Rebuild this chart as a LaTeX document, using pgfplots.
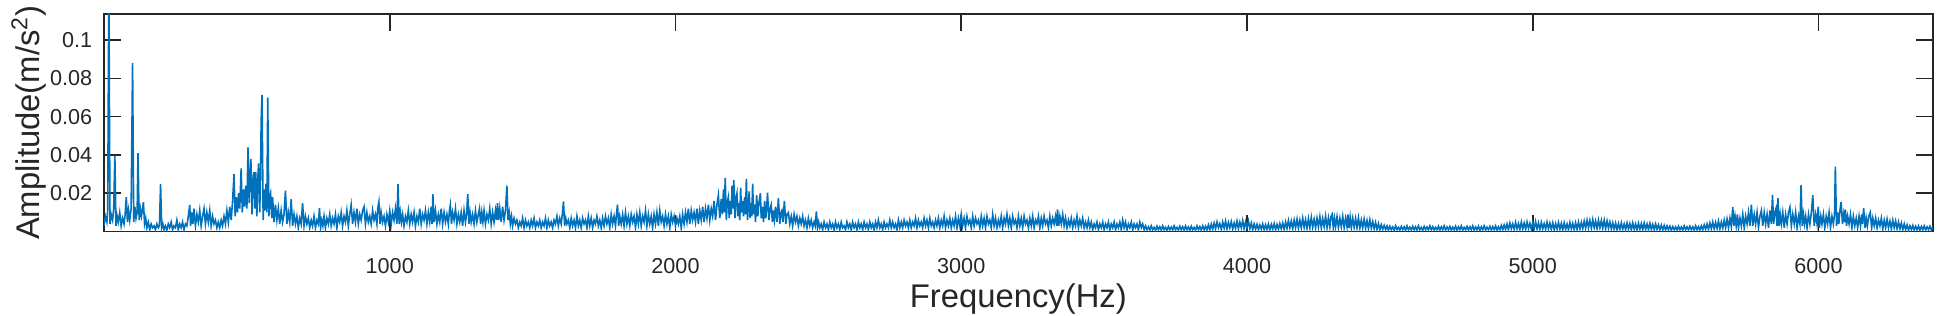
\documentclass[border=0pt]{standalone}
\usepackage{fontspec}
\setmainfont{Liberation Sans}
\usepackage{pgfplots}
\pgfplotsset{compat=1.18}
\definecolor{mblue}{rgb}{0,0.447,0.741}
\definecolor{axgray}{rgb}{0.15,0.15,0.15}

\begin{document}
\begin{tikzpicture}
\begin{axis}[
    scale only axis,
    width=914.4pt,
    height=108.8pt,
    xmin=0, xmax=6400,
    ymin=0, ymax=0.1136,
    xtick={1000,2000,3000,4000,5000,6000},
    ytick={0.02,0.04,0.06,0.08,0.1},
    yticklabels={0.02,0.04,0.06,0.08,0.1},
    tick align=inside,
    major tick length=8.5pt,
    axis line style={axgray, line width=0.8pt},
    every tick/.style={axgray, line width=0.8pt},
    tick label style={font=\fontsize{10.8}{13}\selectfont, text=axgray},
    /pgf/number format/assume math mode=true,
    /pgf/number format/1000 sep={},
    xticklabel style={yshift=-10pt},
    yticklabel style={xshift=-2.4pt},
    xlabel={Frequency(Hz)},
    ylabel={Amplitude(m/s\textsuperscript{2})},
    label style={font=\fontsize{16.4}{19}\selectfont, text=axgray},
    xlabel style={at={(axis description cs:0.5,0)}, anchor=base, yshift=-38pt},
    ylabel style={at={([xshift=-32pt]axis description cs:0,0.5)}, anchor=base},
    clip=true,
]
\addplot[mblue, line width=0.8pt] coordinates {
(0,0.003) (5,0.008) (10,0.005) (13,0.011) (17,0.13) (21,0.004) (25,0.009) (30,0.006) (34,0.012) (38,0.0395)
(42,0.003) (46,0.008) (50,0.005) (55,0.010) (60,0.003) (65,0.007) (70,0.004) (74,0.009) (78,0.018) (82,0.005)
(86,0.011) (90,0.006) (95,0.012) (100,0.088) (104,0.005) (108,0.013) (112,0.007) (116,0.010) (119,0.041) (123,0.006)
(127,0.012) (131,0.008) (134,0.011) (138,0.0153) (142,0.004) (146,0.007) (150,0.002) (155,0.005) (160,0.001) (165,0.004)
(170,0.002) (175,0.003) (180,0.001) (185,0.004) (190,0.002) (194,0.003) (198,0.0248) (202,0.002) (206,0.004) (210,0.001)
(215,0.003) (220,0.0008) (225,0.004) (230,0.002) (235,0.005) (240,0.001) (245,0.003) (250,0.002) (255,0.006) (260,0.001)
(265,0.004) (270,0.002) (275,0.005) (280,0.001) (285,0.004) (290,0.003) (295,0.008) (300,0.0139) (303,0.003) (307,0.010)
(311,0.004) (315,0.012) (320,0.003) (325,0.009) (330,0.005) (335,0.011) (340,0.003) (345,0.008) (350,0.012) (355,0.004)
(360,0.010) (365,0.005) (370,0.011) (375,0.003) (380,0.008) (385,0.004) (390,0.006) (395,0.002) (400,0.005) (405,0.002)
(410,0.006) (415,0.003) (420,0.008) (425,0.004) (430,0.011) (435,0.005) (440,0.013) (445,0.006) (450,0.016) (455,0.030)
(459,0.008) (463,0.018) (467,0.010) (471,0.020) (475,0.012) (480,0.033) (484,0.010) (488,0.022) (492,0.013) (496,0.024)
(500,0.012) (504,0.044) (508,0.015) (511,0.030) (514,0.038) (518,0.009) (521,0.025) (524,0.031) (528,0.012) (531,0.031)
(535,0.008) (538,0.027) (541,0.0356) (545,0.010) (548,0.030) (550,0.058) (553,0.0713) (557,0.006) (560,0.022) (563,0.011)
(567,0.025) (570,0.010) (573,0.070) (577,0.008) (580,0.018) (583,0.020) (587,0.007) (590,0.018) (595,0.005) (600,0.014)
(605,0.006) (610,0.012) (615,0.004) (620,0.011) (625,0.005) (630,0.009) (635,0.0214) (640,0.004) (645,0.010) (650,0.005)
(655,0.0169) (660,0.003) (665,0.009) (670,0.004) (675,0.008) (680,0.002) (685,0.007) (690,0.004) (695,0.0148) (700,0.003)
(705,0.008) (710,0.004) (715,0.007) (720,0.002) (725,0.006) (730,0.003) (735,0.008) (740,0.002) (745,0.006) (750,0.004)
(754,0.0122) (758,0.002) (762,0.006) (766,0.003) (770,0.008) (775,0.002) (780,0.007) (785,0.004) (790,0.009) (795,0.003)
(800,0.007) (805,0.004) (810,0.009) (815,0.002) (820,0.008) (825,0.005) (830,0.010) (835,0.003) (840,0.008) (845,0.005)
(850,0.011) (855,0.003) (860,0.009) (865,0.014) (870,0.004) (875,0.010) (880,0.005) (885,0.012) (890,0.004) (895,0.009)
(900,0.006) (905,0.011) (910,0.013) (915,0.004) (920,0.010) (925,0.005) (930,0.008) (935,0.004) (940,0.011) (945,0.006)
(950,0.009) (955,0.004) (958,0.012) (962,0.0155) (966,0.004) (970,0.010) (975,0.005) (980,0.008) (985,0.003) (990,0.009)
(995,0.005) (1000,0.011) (1005,0.004) (1010,0.010) (1015,0.006) (1020,0.012) (1025,0.004) (1029,0.0248) (1033,0.004) (1037,0.010)
(1041,0.005) (1045,0.009) (1050,0.003) (1055,0.008) (1060,0.005) (1065,0.011) (1070,0.004) (1075,0.009) (1080,0.005) (1085,0.010)
(1090,0.003) (1095,0.008) (1100,0.005) (1105,0.012) (1110,0.004) (1115,0.009) (1120,0.006) (1125,0.011) (1130,0.004) (1135,0.010)
(1140,0.005) (1145,0.013) (1148,0.004) (1151,0.0195) (1155,0.005) (1160,0.011) (1165,0.004) (1170,0.009) (1175,0.005) (1180,0.012)
(1185,0.004) (1190,0.010) (1195,0.005) (1200,0.009) (1205,0.004) (1209,0.011) (1212,0.0139) (1216,0.004) (1220,0.010) (1225,0.006)
(1230,0.012) (1235,0.004) (1240,0.009) (1245,0.005) (1250,0.010) (1255,0.003) (1260,0.011) (1265,0.005) (1269,0.009) (1273,0.0196)
(1277,0.004) (1281,0.010) (1285,0.005) (1290,0.009) (1295,0.004) (1300,0.011) (1305,0.005) (1310,0.009) (1314,0.012) (1318,0.004)
(1322,0.010) (1326,0.005) (1330,0.011) (1335,0.004) (1340,0.009) (1345,0.006) (1350,0.012) (1355,0.004) (1360,0.010) (1365,0.005)
(1370,0.011) (1374,0.006) (1377,0.0148) (1381,0.006) (1385,0.012) (1390,0.005) (1395,0.013) (1400,0.006) (1405,0.011) (1410,0.024)
(1414,0.006) (1418,0.010) (1422,0.004) (1426,0.008) (1430,0.003) (1435,0.007) (1440,0.004) (1445,0.006) (1450,0.002) (1455,0.005)
(1460,0.003) (1465,0.007) (1470,0.002) (1475,0.006) (1480,0.003) (1485,0.005) (1490,0.002) (1495,0.006) (1500,0.003) (1505,0.007)
(1510,0.002) (1515,0.005) (1520,0.003) (1525,0.006) (1530,0.002) (1535,0.005) (1540,0.003) (1545,0.007) (1550,0.002) (1555,0.006)
(1560,0.003) (1565,0.005) (1570,0.002) (1575,0.006) (1580,0.004) (1585,0.008) (1590,0.003) (1595,0.007) (1600,0.004) (1604,0.009)
(1608,0.0157) (1612,0.003) (1616,0.007) (1620,0.004) (1625,0.006) (1630,0.002) (1635,0.007) (1640,0.003) (1645,0.006) (1650,0.002)
(1655,0.008) (1660,0.003) (1665,0.006) (1670,0.002) (1675,0.007) (1680,0.004) (1685,0.006) (1690,0.002) (1695,0.008) (1700,0.003)
(1705,0.007) (1710,0.002) (1715,0.006) (1720,0.004) (1725,0.008) (1730,0.003) (1735,0.006) (1740,0.002) (1745,0.007) (1750,0.003)
(1755,0.008) (1760,0.004) (1765,0.007) (1770,0.002) (1775,0.009) (1780,0.004) (1785,0.008) (1790,0.003) (1794,0.010) (1797,0.014)
(1801,0.003) (1805,0.008) (1810,0.004) (1815,0.009) (1820,0.003) (1825,0.010) (1830,0.004) (1835,0.008) (1840,0.003) (1845,0.009)
(1850,0.005) (1855,0.008) (1860,0.002) (1865,0.009) (1870,0.004) (1875,0.010) (1880,0.003) (1885,0.008) (1890,0.005) (1895,0.011)
(1900,0.003) (1905,0.009) (1910,0.004) (1915,0.008) (1920,0.002) (1925,0.009) (1930,0.004) (1935,0.010) (1940,0.003) (1945,0.011)
(1950,0.005) (1955,0.008) (1960,0.003) (1965,0.009) (1970,0.004) (1975,0.008) (1980,0.002) (1985,0.009) (1990,0.005) (1995,0.008)
(2000,0.003) (2005,0.007) (2010,0.004) (2015,0.008) (2020,0.002) (2025,0.009) (2030,0.004) (2035,0.010) (2040,0.005) (2045,0.012)
(2050,0.004) (2055,0.011) (2060,0.006) (2065,0.010) (2070,0.005) (2075,0.012) (2080,0.004) (2085,0.011) (2090,0.006) (2095,0.013)
(2100,0.005) (2105,0.012) (2110,0.007) (2115,0.014) (2120,0.006) (2125,0.012) (2130,0.008) (2135,0.016) (2140,0.006) (2145,0.014)
(2150,0.019) (2155,0.007) (2160,0.017) (2164,0.009) (2168,0.022) (2171,0.010) (2174,0.028) (2178,0.006) (2181,0.015) (2185,0.018)
(2188,0.007) (2192,0.016) (2195,0.009) (2198,0.024) (2201,0.012) (2204,0.027) (2208,0.007) (2211,0.017) (2215,0.020) (2218,0.008)
(2222,0.015) (2225,0.006) (2228,0.023) (2231,0.010) (2235,0.016) (2238,0.008) (2242,0.018) (2245,0.009) (2248,0.0275) (2252,0.006)
(2255,0.014) (2258,0.021) (2261,0.007) (2264,0.015) (2267,0.008) (2270,0.025) (2273,0.009) (2277,0.014) (2280,0.005) (2284,0.019)
(2288,0.008) (2292,0.015) (2297,0.020) (2300,0.007) (2304,0.013) (2308,0.005) (2312,0.016) (2316,0.007) (2319,0.012) (2322,0.0203)
(2327,0.006) (2331,0.012) (2335,0.014) (2339,0.005) (2342,0.011) (2346,0.006) (2350,0.013) (2355,0.005) (2360,0.0174) (2365,0.004)
(2369,0.010) (2372,0.011) (2376,0.005) (2381,0.016) (2386,0.004) (2390,0.009) (2395,0.010) (2400,0.004) (2405,0.008) (2410,0.003)
(2415,0.009) (2420,0.005) (2425,0.008) (2430,0.003) (2435,0.007) (2440,0.004) (2445,0.008) (2450,0.003) (2455,0.006) (2460,0.002)
(2465,0.007) (2470,0.003) (2475,0.006) (2480,0.002) (2485,0.005) (2489,0.003) (2493,0.0105) (2497,0.002) (2501,0.005) (2505,0.002)
(2510,0.004) (2515,0.001) (2520,0.005) (2525,0.002) (2530,0.004) (2535,0.001) (2540,0.005) (2545,0.002) (2550,0.004) (2555,0.001)
(2560,0.005) (2565,0.002) (2570,0.004) (2575,0.001) (2580,0.005) (2585,0.002) (2590,0.003) (2595,0.001) (2600,0.005) (2605,0.002)
(2610,0.004) (2615,0.001) (2620,0.005) (2625,0.002) (2630,0.004) (2635,0.001) (2640,0.005) (2645,0.002) (2650,0.004) (2655,0.001)
(2660,0.005) (2665,0.002) (2670,0.004) (2675,0.001) (2680,0.005) (2685,0.002) (2690,0.004) (2695,0.001) (2700,0.005) (2705,0.002)
(2710,0.006) (2715,0.002) (2720,0.004) (2725,0.001) (2730,0.005) (2735,0.002) (2740,0.004) (2745,0.002) (2750,0.006) (2755,0.002)
(2760,0.005) (2765,0.002) (2770,0.004) (2775,0.001) (2780,0.006) (2785,0.002) (2790,0.005) (2795,0.002) (2800,0.006) (2805,0.003)
(2810,0.005) (2815,0.002) (2820,0.006) (2825,0.002) (2830,0.005) (2835,0.003) (2840,0.007) (2845,0.002) (2850,0.006) (2855,0.003)
(2860,0.005) (2865,0.002) (2870,0.007) (2875,0.003) (2880,0.006) (2885,0.002) (2890,0.007) (2895,0.003) (2900,0.005) (2905,0.002)
(2910,0.006) (2915,0.003) (2920,0.007) (2925,0.002) (2930,0.006) (2935,0.003) (2940,0.008) (2945,0.002) (2950,0.006) (2955,0.003)
(2960,0.007) (2965,0.002) (2970,0.006) (2975,0.003) (2980,0.008) (2985,0.002) (2990,0.007) (2995,0.003) (3000,0.009) (3005,0.003)
(3010,0.007) (3015,0.002) (3020,0.008) (3025,0.004) (3030,0.006) (3035,0.002) (3040,0.008) (3045,0.003) (3050,0.007) (3055,0.004)
(3060,0.006) (3065,0.002) (3070,0.008) (3075,0.003) (3080,0.007) (3085,0.002) (3090,0.008) (3095,0.004) (3100,0.006) (3105,0.002)
(3110,0.009) (3115,0.003) (3120,0.007) (3125,0.002) (3130,0.006) (3135,0.003) (3140,0.008) (3145,0.002) (3150,0.007) (3155,0.004)
(3160,0.009) (3165,0.003) (3170,0.007) (3175,0.002) (3180,0.008) (3185,0.004) (3190,0.006) (3195,0.002) (3200,0.008) (3205,0.003)
(3210,0.007) (3215,0.002) (3220,0.008) (3225,0.004) (3230,0.006) (3235,0.002) (3240,0.007) (3245,0.003) (3250,0.008) (3255,0.002)
(3260,0.006) (3265,0.004) (3270,0.008) (3275,0.002) (3280,0.007) (3285,0.003) (3290,0.008) (3295,0.004) (3300,0.006) (3305,0.002)
(3310,0.008) (3315,0.003) (3320,0.007) (3325,0.004) (3330,0.008) (3334,0.003) (3337,0.0116) (3341,0.003) (3345,0.008) (3350,0.004)
(3355,0.009) (3360,0.003) (3365,0.007) (3370,0.002) (3375,0.006) (3380,0.003) (3385,0.007) (3390,0.002) (3395,0.006) (3400,0.003)
(3405,0.008) (3410,0.002) (3415,0.006) (3420,0.003) (3425,0.007) (3430,0.002) (3435,0.005) (3440,0.002) (3445,0.006) (3450,0.002)
(3455,0.005) (3460,0.001) (3465,0.004) (3470,0.002) (3475,0.005) (3480,0.001) (3485,0.004) (3490,0.002) (3495,0.005) (3500,0.001)
(3505,0.004) (3510,0.002) (3515,0.005) (3520,0.001) (3525,0.004) (3530,0.002) (3535,0.005) (3540,0.001) (3545,0.004) (3550,0.002)
(3555,0.005) (3560,0.001) (3565,0.006) (3570,0.002) (3575,0.005) (3580,0.001) (3585,0.004) (3590,0.002) (3595,0.005) (3600,0.001)
(3605,0.004) (3610,0.002) (3615,0.004) (3620,0.001) (3625,0.005) (3630,0.002) (3635,0.004) (3640,0.001) (3645,0.003) (3650,0.001)
(3655,0.0025) (3660,0.0008) (3665,0.003) (3670,0.001) (3675,0.0022) (3680,0.0007) (3685,0.0028) (3690,0.001) (3695,0.0025) (3700,0.0008)
(3705,0.003) (3710,0.001) (3715,0.0022) (3720,0.0007) (3725,0.0027) (3730,0.001) (3735,0.0024) (3740,0.0008) (3745,0.003) (3750,0.001)
(3755,0.0022) (3760,0.0007) (3765,0.0028) (3770,0.001) (3775,0.0025) (3780,0.0008) (3785,0.003) (3790,0.001) (3795,0.0024) (3800,0.0007)
(3805,0.0028) (3810,0.001) (3815,0.0022) (3820,0.0008) (3825,0.003) (3830,0.001) (3835,0.0026) (3840,0.0008) (3845,0.003) (3850,0.001)
(3855,0.0028) (3860,0.0009) (3865,0.0035) (3870,0.001) (3875,0.004) (3880,0.0012) (3885,0.0045) (3890,0.0015) (3895,0.005) (3900,0.002)
(3905,0.0042) (3910,0.0012) (3915,0.005) (3920,0.0018) (3925,0.0055) (3930,0.0015) (3935,0.0048) (3940,0.002) (3945,0.0052) (3950,0.0013)
(3955,0.0045) (3960,0.0018) (3965,0.0055) (3970,0.0015) (3975,0.005) (3980,0.002) (3985,0.0058) (3990,0.0015) (3995,0.005) (4000,0.002)
(4005,0.0055) (4010,0.0015) (4015,0.0045) (4020,0.001) (4025,0.004) (4030,0.0012) (4035,0.0038) (4040,0.001) (4045,0.0035) (4050,0.0012)
(4055,0.004) (4060,0.001) (4065,0.0036) (4070,0.0012) (4075,0.004) (4080,0.001) (4085,0.0038) (4090,0.0013) (4095,0.0042) (4100,0.001)
(4105,0.0038) (4110,0.0012) (4115,0.0042) (4120,0.0014) (4125,0.0045) (4130,0.0012) (4135,0.005) (4140,0.0016) (4145,0.0058) (4150,0.002)
(4155,0.0055) (4160,0.0015) (4165,0.006) (4170,0.002) (4175,0.0065) (4180,0.0018) (4185,0.006) (4190,0.002) (4195,0.007) (4200,0.0022)
(4205,0.0062) (4210,0.0018) (4215,0.0068) (4220,0.002) (4225,0.0075) (4230,0.0022) (4235,0.0065) (4240,0.002) (4245,0.007) (4250,0.0025)
(4255,0.0078) (4260,0.002) (4265,0.0068) (4270,0.0025) (4275,0.008) (4280,0.002) (4285,0.0072) (4290,0.0025) (4294,0.0078) (4298,0.009)
(4302,0.002) (4306,0.007) (4310,0.0025) (4315,0.0078) (4320,0.002) (4325,0.007) (4330,0.0025) (4335,0.008) (4340,0.002) (4345,0.007)
(4350,0.0025) (4353,0.009) (4357,0.002) (4361,0.0075) (4365,0.002) (4370,0.007) (4375,0.0022) (4380,0.0068) (4385,0.002) (4390,0.0072)
(4395,0.0018) (4400,0.006) (4405,0.002) (4410,0.0065) (4415,0.0018) (4420,0.0058) (4425,0.0015) (4430,0.0062) (4435,0.0018) (4440,0.0052)
(4445,0.0015) (4450,0.0048) (4455,0.0012) (4460,0.0042) (4465,0.001) (4470,0.0036) (4475,0.0012) (4480,0.0032) (4485,0.001) (4490,0.003)
(4495,0.0008) (4500,0.0028) (4505,0.001) (4510,0.0024) (4515,0.0008) (4520,0.003) (4525,0.001) (4530,0.0022) (4535,0.0008) (4540,0.0027)
(4545,0.001) (4550,0.0025) (4555,0.0007) (4560,0.003) (4565,0.001) (4570,0.0023) (4575,0.0008) (4580,0.0028) (4585,0.001) (4590,0.0025)
(4595,0.0008) (4600,0.003) (4605,0.001) (4610,0.0022) (4615,0.0007) (4620,0.0027) (4625,0.001) (4630,0.0024) (4635,0.0008) (4640,0.003)
(4645,0.001) (4650,0.0026) (4655,0.0008) (4660,0.0022) (4665,0.001) (4670,0.0028) (4675,0.0008) (4680,0.0025) (4685,0.001) (4690,0.003)
(4695,0.0008) (4700,0.0024) (4705,0.001) (4710,0.0027) (4715,0.0007) (4720,0.0023) (4725,0.001) (4730,0.0028) (4735,0.0008) (4740,0.0025)
(4745,0.001) (4750,0.003) (4755,0.0008) (4760,0.0022) (4765,0.001) (4770,0.0027) (4775,0.0008) (4780,0.0025) (4785,0.001) (4790,0.003)
(4795,0.0008) (4800,0.0024) (4805,0.001) (4810,0.0028) (4815,0.0007) (4820,0.0025) (4825,0.001) (4830,0.003) (4835,0.0008) (4840,0.0023)
(4845,0.001) (4850,0.0028) (4855,0.0008) (4860,0.0026) (4865,0.001) (4870,0.003) (4875,0.0008) (4880,0.0025) (4885,0.001) (4890,0.0032)
(4895,0.001) (4900,0.0035) (4905,0.0012) (4910,0.004) (4915,0.001) (4920,0.0045) (4925,0.0015) (4930,0.004) (4935,0.0012) (4940,0.0048)
(4945,0.0014) (4950,0.0042) (4955,0.0012) (4960,0.005) (4965,0.0015) (4970,0.0045) (4975,0.0012) (4980,0.005) (4985,0.0016) (4990,0.0043)
(4995,0.0012) (5000,0.0048) (5005,0.0015) (5010,0.0052) (5015,0.0014) (5020,0.0045) (5025,0.0012) (5030,0.0048) (5035,0.0015) (5040,0.0042)
(5045,0.0012) (5050,0.005) (5055,0.0014) (5060,0.0044) (5065,0.0012) (5070,0.0046) (5075,0.001) (5080,0.0042) (5085,0.0013) (5090,0.0048)
(5095,0.0012) (5100,0.0043) (5105,0.001) (5110,0.0046) (5115,0.0012) (5120,0.004) (5125,0.001) (5130,0.0048) (5135,0.0014) (5140,0.0043)
(5145,0.0012) (5150,0.0046) (5155,0.0012) (5160,0.005) (5165,0.0015) (5170,0.0048) (5175,0.0016) (5180,0.0055) (5185,0.0018) (5190,0.006)
(5195,0.002) (5200,0.0058) (5205,0.0018) (5210,0.0062) (5215,0.002) (5220,0.0055) (5225,0.0016) (5230,0.006) (5235,0.002) (5240,0.0058)
(5245,0.0018) (5250,0.006) (5255,0.0015) (5260,0.0056) (5265,0.0018) (5270,0.005) (5275,0.0014) (5280,0.0046) (5285,0.0012) (5290,0.0044)
(5295,0.001) (5300,0.0042) (5305,0.0012) (5310,0.0046) (5315,0.0013) (5320,0.004) (5325,0.001) (5330,0.0045) (5335,0.0012) (5340,0.0042)
(5345,0.001) (5350,0.0046) (5355,0.0012) (5360,0.004) (5365,0.001) (5370,0.0044) (5375,0.0013) (5380,0.0042) (5385,0.001) (5390,0.0045)
(5395,0.0012) (5400,0.004) (5405,0.001) (5410,0.0043) (5415,0.0012) (5420,0.0038) (5425,0.001) (5430,0.004) (5435,0.0012) (5440,0.0036)
(5445,0.001) (5450,0.0034) (5455,0.0009) (5460,0.0032) (5465,0.0008) (5470,0.003) (5475,0.0009) (5480,0.0028) (5485,0.0008) (5490,0.0026)
(5495,0.001) (5500,0.0025) (5505,0.0008) (5510,0.0028) (5515,0.001) (5520,0.0024) (5525,0.0008) (5530,0.003) (5535,0.001) (5540,0.0025)
(5545,0.0008) (5550,0.0028) (5555,0.001) (5560,0.0025) (5565,0.0008) (5570,0.003) (5575,0.001) (5580,0.0026) (5585,0.0009) (5590,0.003)
(5595,0.001) (5600,0.0035) (5605,0.0012) (5610,0.004) (5615,0.0012) (5620,0.0045) (5625,0.0015) (5630,0.005) (5635,0.0014) (5640,0.0048)
(5645,0.0016) (5650,0.0055) (5655,0.0015) (5660,0.005) (5665,0.0018) (5670,0.006) (5675,0.002) (5680,0.0065) (5685,0.002) (5690,0.007)
(5695,0.0025) (5700,0.0127) (5704,0.003) (5708,0.008) (5712,0.003) (5716,0.009) (5720,0.002) (5725,0.007) (5730,0.003) (5735,0.009)
(5740,0.002) (5745,0.008) (5750,0.004) (5755,0.010) (5760,0.003) (5765,0.014) (5770,0.003) (5775,0.009) (5780,0.004) (5785,0.010)
(5790,0.002) (5795,0.008) (5800,0.011) (5805,0.003) (5810,0.010) (5815,0.004) (5820,0.009) (5825,0.002) (5830,0.011) (5835,0.004)
(5839,0.0191) (5843,0.004) (5847,0.010) (5851,0.012) (5855,0.003) (5858,0.0174) (5862,0.003) (5866,0.009) (5870,0.004) (5875,0.010)
(5880,0.002) (5885,0.009) (5890,0.004) (5895,0.010) (5900,0.0127) (5905,0.003) (5910,0.009) (5915,0.004) (5920,0.010) (5925,0.002)
(5930,0.008) (5935,0.004) (5939,0.0243) (5943,0.003) (5947,0.009) (5951,0.004) (5955,0.008) (5960,0.002) (5965,0.009) (5970,0.004)
(5975,0.010) (5980,0.019) (5985,0.003) (5990,0.009) (5995,0.004) (5999,0.013) (6003,0.002) (6008,0.008) (6012,0.004) (6017,0.009)
(6022,0.002) (6027,0.008) (6032,0.004) (6037,0.010) (6042,0.002) (6047,0.008) (6052,0.004) (6056,0.009) (6059,0.0339) (6063,0.003)
(6067,0.010) (6071,0.004) (6075,0.011) (6079,0.0155) (6084,0.004) (6088,0.009) (6091,0.005) (6094,0.0116) (6098,0.003) (6102,0.008)
(6107,0.004) (6112,0.009) (6117,0.002) (6122,0.008) (6127,0.003) (6132,0.007) (6137,0.002) (6142,0.008) (6147,0.003) (6151,0.009)
(6154,0.004) (6158,0.0122) (6163,0.002) (6167,0.007) (6171,0.003) (6176,0.008) (6181,0.010) (6186,0.002) (6190,0.007) (6195,0.003)
(6200,0.007) (6205,0.002) (6210,0.006) (6215,0.003) (6220,0.007) (6225,0.0015) (6230,0.006) (6235,0.002) (6240,0.0065) (6245,0.002)
(6250,0.0055) (6255,0.0015) (6260,0.006) (6265,0.002) (6270,0.0055) (6275,0.0015) (6280,0.005) (6285,0.0015) (6290,0.0045) (6295,0.001)
(6300,0.004) (6305,0.001) (6310,0.0035) (6315,0.0008) (6320,0.003) (6325,0.001) (6330,0.0032) (6335,0.0008) (6340,0.0028) (6345,0.001)
(6350,0.003) (6355,0.0008) (6360,0.0027) (6365,0.001) (6370,0.003) (6375,0.0008) (6380,0.0025) (6385,0.001) (6390,0.0028) (6395,0.0008)
(6400,0.0025)
};
\end{axis}
\pgfresetboundingbox
\path[use as bounding box] (-52pt,-42.2pt) rectangle (918pt,115.8pt);
\end{tikzpicture}
\end{document}
